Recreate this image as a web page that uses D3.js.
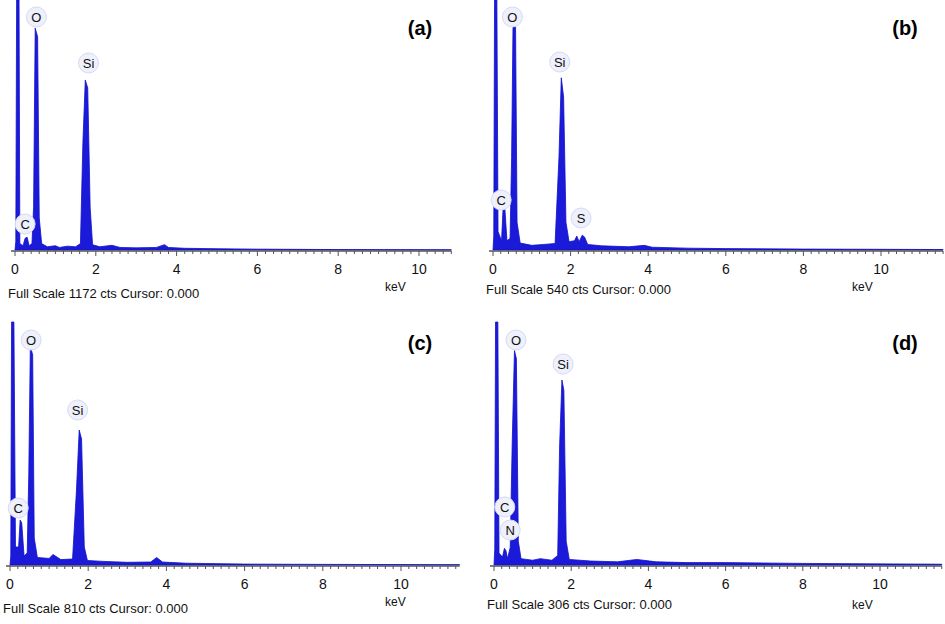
<!DOCTYPE html>
<html>
<head>
<meta charset="utf-8">
<script src="https://d3js.org/d3.v7.min.js"></script>
<style>
body { margin:0; background:#fff; }
text { font-family: Arial, "Liberation Sans", sans-serif; }
</style>
</head>
<body>
<div id="chart"></div>
<script>
// spectra: [keV, counts]
var specA = [[0,0],[0.02,40],[0.04,1400],[0.1,1400],[0.12,30],[0.2,20],[0.25,55],[0.3,60],[0.35,20],[0.42,30],[0.46,200],[0.5,1040],[0.56,1000],[0.6,150],[0.66,30],[0.8,15],[1.0,20],[1.1,12],[1.3,18],[1.5,15],[1.62,30],[1.68,500],[1.74,797],[1.8,760],[1.86,200],[1.92,25],[2.1,15],[2.4,22],[2.6,12],[3.0,10],[3.5,12],[3.7,25],[3.8,12],[4.2,8],[5,6],[6,4],[7,3],[8,2],[10.8,1]];
var specB = [[0,0],[0.02,30],[0.04,640],[0.1,640],[0.13,40],[0.22,20],[0.26,90],[0.3,97],[0.36,20],[0.44,25],[0.48,200],[0.52,518],[0.58,500],[0.62,60],[0.7,15],[1.0,10],[1.3,12],[1.6,14],[1.7,200],[1.76,372],[1.82,330],[1.88,60],[1.96,18],[2.1,20],[2.16,30],[2.22,18],[2.3,32],[2.36,28],[2.44,12],[2.8,9],[3.5,7],[3.9,10],[4.1,6],[5,4],[6,3],[8,2],[11.6,1]];
var specC = [[0,0],[0.02,30],[0.04,950],[0.1,950],[0.14,60],[0.22,60],[0.26,150],[0.3,140],[0.36,30],[0.44,40],[0.48,300],[0.52,730],[0.58,700],[0.62,90],[0.7,25],[1.0,22],[1.1,35],[1.3,18],[1.6,20],[1.7,250],[1.77,450],[1.83,420],[1.9,60],[1.98,15],[2.4,12],[3.0,9],[3.6,10],[3.75,25],[3.9,10],[4.5,6],[5,5],[6,3],[8,2],[11.5,1]];
var specD = [[0,0],[0.02,20],[0.04,360],[0.1,360],[0.13,15],[0.22,10],[0.27,21],[0.31,18],[0.35,8],[0.42,22],[0.47,150],[0.53,270],[0.58,260],[0.63,30],[0.7,8],[1.0,6],[1.2,8],[1.5,6],[1.65,12],[1.7,150],[1.76,233],[1.81,220],[1.87,30],[1.95,7],[2.5,5],[3.2,4],[3.7,7],[4.2,4],[5,3],[6,3],[8,2],[11.6,1]];
var tickLabels = [0, 2, 4, 6, 8, 10];

var panels = [
  {data:specA, full:1172, letter:"(a)", x0:15, kmax:10.8, px:40.4, base:250, top:0,
   labels:[["O",0.53,17],["Si",1.82,63],["C",0.25,224]], lx:420, ly:35, fy:298, kx:385, ky:291},
  {data:specB, full:540, letter:"(b)", x0:493, kmax:11.6, px:38.8, base:250, top:0,
   labels:[["O",0.5,17],["Si",1.72,62],["C",0.21,200],["S",2.27,218]], lx:905, ly:35, fy:294, kx:852, ky:291},
  {data:specC, full:810, letter:"(c)", x0:10, kmax:11.5, px:39.1, base:565, top:322,
   labels:[["O",0.54,340],["Si",1.73,410],["C",0.21,508]], lx:420, ly:350, fy:613, kx:385, ky:606},
  {data:specD, full:306, letter:"(d)", x0:494, kmax:11.6, px:38.6, base:565, top:322,
   labels:[["O",0.57,340],["Si",1.79,364],["C",0.28,507],["N",0.42,530]], lx:905, ly:350, fy:609, kx:852, ky:609}
];

var svg = d3.select("#chart").append("svg").attr("width", 945).attr("height", 624);

panels.forEach(function(p, i) {
  var x = d3.scaleLinear().domain([0, p.kmax]).range([p.x0, p.x0 + p.kmax * p.px]);
  var y = d3.scaleLinear().domain([0, p.full]).range([p.base, p.top]).clamp(true);
  var g = svg.append("g");

  var area = d3.area().x(function(d){ return x(d[0]); }).y0(p.base).y1(function(d){ return y(d[1]); });
  g.append("path").datum(p.data).attr("d", area).attr("fill", "#1a1ad8").attr("stroke", "#1010cc").attr("stroke-width", 0.8);

  // axis
  var minor = d3.range(0, p.kmax + 0.001, 0.2);
  g.append("line").attr("x1", x(0) - 4).attr("x2", x(p.kmax)).attr("y1", p.base + 1).attr("y2", p.base + 1)
    .attr("stroke", "#555").attr("stroke-width", 1.5);
  g.selectAll(".mt").data(minor).enter().append("line")
    .attr("x1", function(d){ return x(d); }).attr("x2", function(d){ return x(d); })
    .attr("y1", p.base + 1).attr("y2", function(d, j){ return p.base + (j % 10 == 0 ? 6 : 4); })
    .attr("stroke", "#555").attr("stroke-width", 1);
  g.selectAll(".tl").data(tickLabels).enter().append("text")
    .attr("x", function(d){ return x(d); }).attr("y", p.base + 24)
    .attr("text-anchor", "middle").attr("font-size", 14).attr("fill", "#111").text(function(d){ return d; });

  g.append("text").attr("x", p.kx).attr("y", p.ky).attr("font-size", 12).attr("fill", "#111").text("keV");
  g.append("text").attr("x", p.x0 - 7).attr("y", p.fy).attr("font-size", 13).attr("fill", "#111")
    .text("Full Scale " + p.full + " cts Cursor: 0.000");
  g.append("text").attr("x", p.lx).attr("y", p.ly).attr("font-size", 20).attr("font-weight", "bold")
    .attr("text-anchor", "middle").attr("fill", "#000").text(p.letter);

  p.labels.forEach(function(l) {
    var cx = x(l[1]);
    g.append("circle").attr("cx", cx).attr("cy", l[2]).attr("r", 10).attr("fill", "#eef0fb").attr("stroke", "#d6daf4");
    g.append("text").attr("x", cx).attr("y", l[2] + 5).attr("text-anchor", "middle")
      .attr("font-size", 13).attr("fill", "#111").text(l[0]);
  });
});
</script>
</body>
</html>
